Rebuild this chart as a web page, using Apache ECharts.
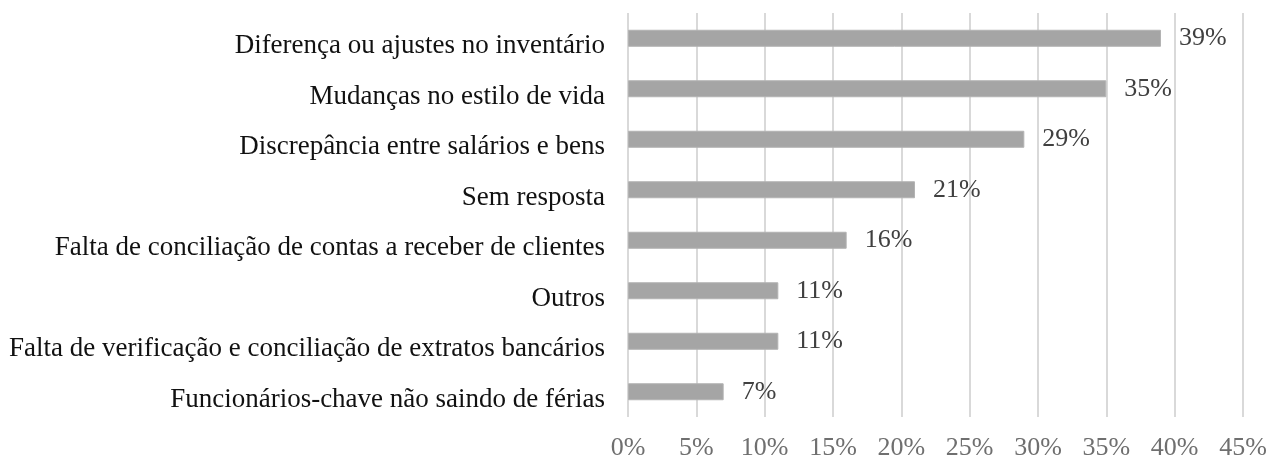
<!DOCTYPE html>
<html lang="pt">
<head>
    <meta charset="UTF-8">
    <title>Indicadores</title>
    <script src="https://cdn.jsdelivr.net/npm/echarts@6/dist/echarts.min.js"></script>
    <style>
        html, body { margin: 0; padding: 0; background: #fff; }
        #chart1 { width: 1271px; height: 458px; }
    </style>
</head>
<body>
<div id="chart1"></div>
<script type="text/javascript">
    // categorias de baixo para cima (eixo de categorias do echarts começa embaixo)
    var categorias = [
        'Funcionários-chave não saindo de férias',
        'Falta de verificação e conciliação de extratos bancários',
        'Outros',
        'Falta de conciliação de contas a receber de clientes',
        'Sem resposta',
        'Discrepância entre salários e bens',
        'Mudanças no estilo de vida',
        'Diferença ou ajustes no inventário'
    ];
    var valores = [7, 11, 11, 16, 21, 29, 35, 39];
    var ticks = [0, 5, 10, 15, 20, 25, 30, 35, 40, 45];

    var fonte = '"Liberation Serif", "Times New Roman", serif';
    var myChart1 = echarts.init(document.getElementById('chart1'));
    myChart1.setOption({
        animation: false,
        grid: { left: 628, right: 28, top: 13, bottom: 41, containLabel: false, outerBoundsMode: 'none' },
        xAxis: {
            type: 'value',
            min: ticks[0],
            max: ticks[ticks.length - 1],
            interval: 5,
            axisLine: { show: false },
            axisTick: { show: false },
            axisLabel: {
                formatter: '{value}%',
                fontFamily: fonte,
                fontSize: 26,
                color: '#6f6f6f',
                margin: 18
            },
            splitLine: { lineStyle: { color: '#d9d9d9', width: 2 } }
        },
        yAxis: {
            type: 'category',
            data: categorias,
            axisLine: { show: false },
            axisTick: { show: false },
            axisLabel: {
                margin: 23,
                formatter: function (v) { return '{c|' + v + '}'; },
                rich: {
                    c: {
                        fontFamily: fonte,
                        fontSize: 27,
                        color: '#111',
                        padding: [16, 0, 0, 0]
                    }
                }
            }
        },
        series: [{
            type: 'bar',
            data: valores,
            barWidth: 17,
            itemStyle: { color: '#a5a5a5', borderColor: '#b3b3b3', borderWidth: 1 },
            label: {
                show: true,
                position: 'right',
                distance: 18,
                formatter: '{c}%',
                fontFamily: fonte,
                fontSize: 26,
                color: '#404040'
            }
        }]
    });
</script>
</body>
</html>
